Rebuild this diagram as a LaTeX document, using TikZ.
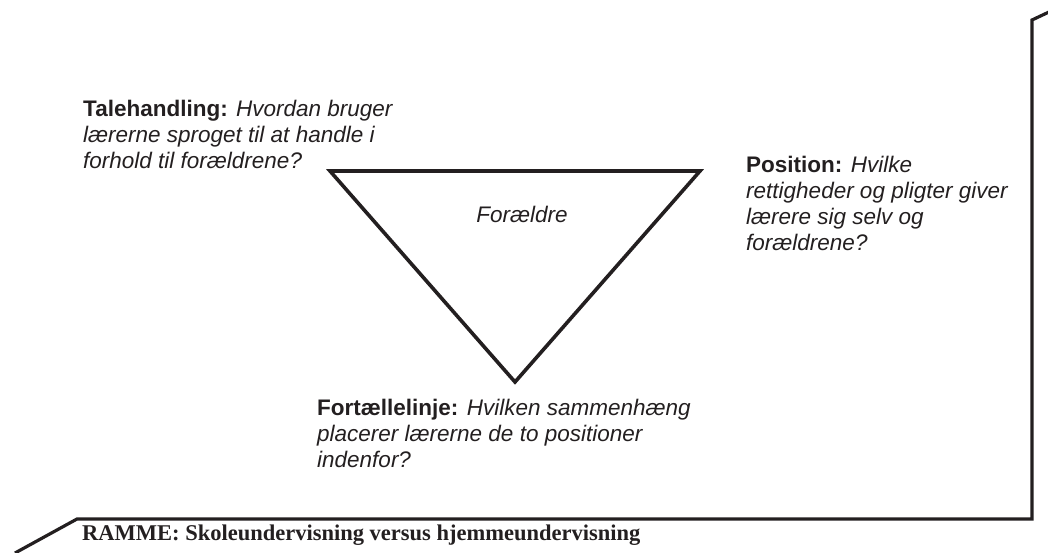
\documentclass[tikz,border=0pt]{standalone}
\usepackage{fontspec}
\setmainfont{Liberation Sans}
\newfontfamily\rammefont{Liberation Serif}
\usetikzlibrary{positioning}
\definecolor{tekst}{HTML}{231F20}
\tikzset{
  spoerg/.style={anchor=north west, inner sep=0pt, align=left, text=tekst,
    font=\fontsize{22.5}{26}\selectfont},
  ramlinje/.style={line width=3.2pt, draw=tekst},
  trekant/.style={line width=3.6pt, draw=tekst, line join=miter}
}

\begin{document}
\begin{tikzpicture}[x=1pt, y=-1pt]
    \useasboundingbox (0,0) rectangle (1048,552);
    % ramme
    \coordinate (rA) at (15,553);
    \coordinate (rB) at (77,519);
    \coordinate (rC) at (1032,519);
    \coordinate (rD) at (1032,20);
    \coordinate (rE) at (1049,12);
    \draw[ramlinje] (rA) -- (rB) -- (rC) -- (rD) -- (rE);
    \node[anchor=base west, inner sep=0pt, text=tekst, font=\fontsize{22.5}{26}\rammefont\bfseries] (ramme) at (82,540)
        {RAMME: Skoleundervisning versus hjemmeundervisning};
    % trekant
    \coordinate (tl) at (330,171);
    \coordinate (tr) at (700,171);
    \coordinate (bt) at (515,382);
    \draw[trekant] (tl) -- (tr) -- (bt) -- cycle;
    \node[anchor=base, inner sep=0pt, text=tekst, font=\fontsize{22.5}{26}\selectfont\itshape] (foraeldre) at (522,222) {Forældre};
    % spoergsmaal
    \node[spoerg] (tale) at (83,100)
        {\textbf{Talehandling:} \textit{Hvordan bruger}\\
         \textit{lærerne sproget til at handle i}\\
         \textit{forhold til forældrene?}};
    \node[spoerg] (position) at (746,156)
        {\textbf{Position:} \textit{Hvilke}\\
         \textit{rettigheder og pligter giver}\\
         \textit{lærere sig selv og}\\
         \textit{forældrene?}};
    \node[spoerg] (fortaelle) at (317,399)
        {\textbf{Fortællelinje:} \textit{Hvilken sammenhæng}\\
         \textit{placerer lærerne de to positioner}\\
         \textit{indenfor?}};
\end{tikzpicture}
\end{document}
